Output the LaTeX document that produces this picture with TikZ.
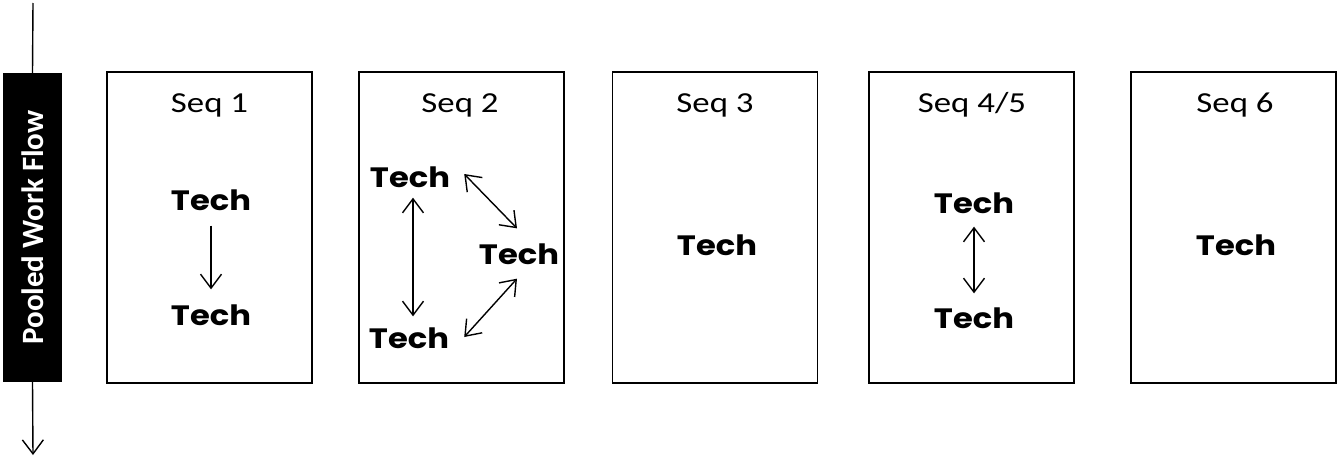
\documentclass[tikz,border=0pt]{standalone}
\usepackage{fontspec}
\usepackage{graphicx}
\setmainfont{Carlito}
\newfontfamily\techfont{Poppins}
\usetikzlibrary{arrows.meta}
\newcommand\techtxt{\scalebox{1.15}[1]{Tech}}
\begin{document}
\begin{tikzpicture}[x=1pt,y=-1pt,
  seqbox/.style={draw, line width=1.6pt, minimum width=205pt, minimum height=311pt, inner sep=0pt},
  seqlabel/.style={font=\fontsize{29}{31}\selectfont, anchor=base, inner sep=0pt},
  tech/.style={font=\techfont\bfseries\fontsize{28}{30}\selectfont, inner sep=0pt},
  tip/.tip={Straight Barb[length=14pt,width=21pt]},
  arr/.style={-tip, line width=1.4pt},
  darr/.style={tip-tip, line width=1.4pt},
  flowbar/.style={fill=black, rotate=90, minimum width=309pt, minimum height=59pt, inner sep=0pt,
    text=white, font=\bfseries\fontsize{31}{33}\selectfont}
]
\useasboundingbox (0,0) rectangle (1339,458);

% pooled work flow bar
\node[flowbar] (bar) at (32.5,227.5) {Pooled Work Flow};
\coordinate (topend) at (33,3);
\coordinate (botend) at (33,455);
\draw[line width=1.4pt] (topend) -- (bar.east);
\draw[arr] (bar.west) -- (botend);

% boxes
\node[seqbox] (b1) at (209.5,227.5) {};
\node[seqbox] (b2) at (461.5,227.5) {};
\node[seqbox] (b3) at (715,227.5) {};
\node[seqbox] (b4) at (971.5,227.5) {};
\node[seqbox] (b5) at (1233.5,227.5) {};

% labels
\node[seqlabel] (l1) at (209.5,112) {\scalebox{1.2}[1]{Seq 1}};
\node[seqlabel] (l2) at (460,112) {\scalebox{1.2}[1]{Seq 2}};
\node[seqlabel] (l3) at (715,112) {\scalebox{1.2}[1]{Seq 3}};
\node[seqlabel] (l4) at (972,112) {\scalebox{1.2}[1]{Seq 4/5}};
\node[seqlabel] (l5) at (1235,112) {\scalebox{1.2}[1]{Seq 6}};

% Seq 1
\node[tech] (t11) at (211,200) {\techtxt};
\node[tech] (t12) at (211,315) {\techtxt};
\draw[arr, shorten <=15pt, shorten >=15pt] (t11.south) -- (t12.north);

% Seq 2
\node[tech] (t21) at (410,177) {\techtxt};
\node[tech] (t22) at (519,254) {\techtxt};
\node[tech] (t23) at (409,338) {\techtxt};
\draw[darr] ([shift={(3,10)}]t21.south) -- ([shift={(4,-11)}]t23.north);
\draw[darr] ([shift={(14,-3)}]t21.east) -- ([shift={(-2,-15)}]t22.north);
\draw[darr] ([shift={(-2,14)}]t22.south) -- ([shift={(15,-1)}]t23.east);

% Seq 3
\node[tech] (t31) at (717,245) {\techtxt};

% Seq 4/5
\node[tech] (t41) at (974,203) {\techtxt};
\node[tech] (t42) at (974,318) {\techtxt};
\draw[darr, shorten <=13pt, shorten >=14pt] (t41.south) -- (t42.north);

% Seq 6
\node[tech] (t51) at (1236,245) {\techtxt};
\end{tikzpicture}
\end{document}
